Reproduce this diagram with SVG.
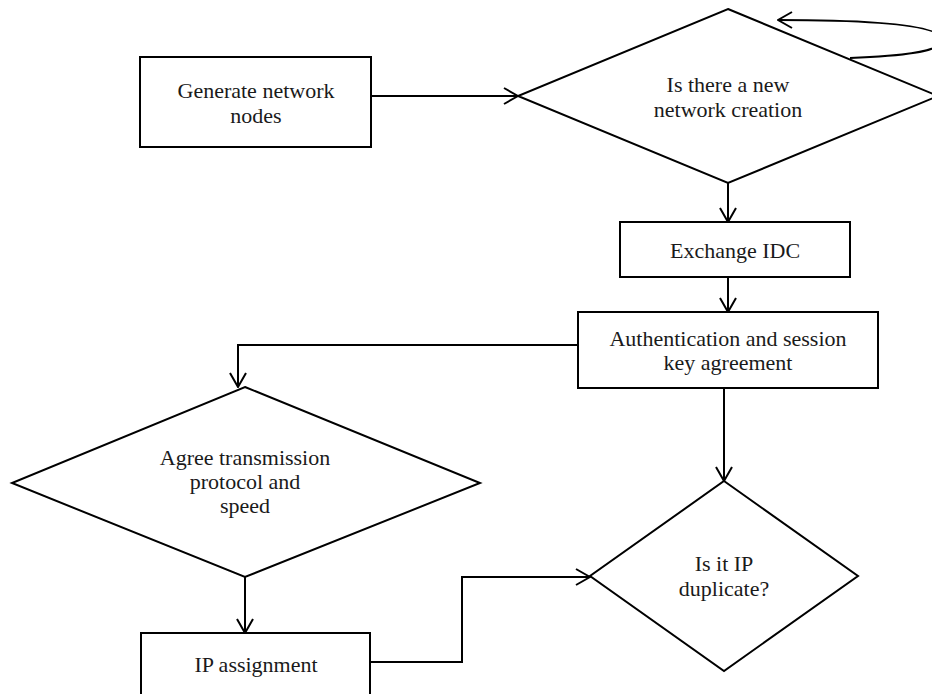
<svg xmlns="http://www.w3.org/2000/svg" width="932" height="694" viewBox="0 0 932 694">
<defs>
<style>
.shape{fill:#fff;stroke:#000;stroke-width:2}
.conn{fill:none;stroke:#000;stroke-width:2;marker-end:url(#arr)}
text{font-family:"Liberation Serif","Times New Roman",serif;font-size:22px;fill:#1a1a1a;text-anchor:middle}
</style>
<marker id="arr" viewBox="0 0 16 18" refX="15" refY="9" markerWidth="16" markerHeight="18" markerUnits="userSpaceOnUse" orient="auto">
<path d="M1,1 L15,9 L1,17" fill="none" stroke="#000" stroke-width="2"/>
</marker>
</defs>
<rect width="932" height="694" fill="#fff"/>
<g id="gen">
<rect class="shape" x="140" y="57" width="231" height="90"/>
<text x="256" y="98">Generate network</text>
<text x="256" y="123">nodes</text>
</g>
<g id="newnet">
<polygon class="shape" points="728,9 938,96 728,183 518,96"/>
<text x="728" y="92">Is there a new</text>
<text x="728" y="117">network creation</text>
</g>
<g id="exchange">
<rect class="shape" x="620" y="222" width="230" height="55"/>
<text x="735" y="258">Exchange IDC</text>
</g>
<g id="auth">
<rect class="shape" x="578" y="312" width="300" height="76"/>
<text x="728" y="346">Authentication and session</text>
<text x="728" y="370">key agreement</text>
</g>
<g id="agree">
<polygon class="shape" points="245,387 480,483 245,577 12,483"/>
<text x="245" y="465">Agree transmission</text>
<text x="245" y="489">protocol and</text>
<text x="245" y="513">speed</text>
</g>
<g id="ipassign">
<rect class="shape" x="141" y="633" width="229" height="70"/>
<text x="256" y="672">IP assignment</text>
</g>
<g id="dup">
<polygon class="shape" points="724,481 858,576 724,671 590,576"/>
<text x="724" y="571">Is it IP</text>
<text x="724" y="596">duplicate?</text>
</g>
<g id="connectors">
<path class="conn" d="M371,96 L518,96"/>
<path class="conn" d="M850,58 C900,56 942,52 942,40 C942,26 880,20 778,20"/>
<path class="conn" d="M728,183 L728,222"/>
<path class="conn" d="M728,277 L728,312"/>
<path class="conn" d="M578,345 L238,345 L238,387"/>
<path class="conn" d="M724,388 L724,481"/>
<path class="conn" d="M245,577 L245,633"/>
<path class="conn" d="M370,662 L462,662 L462,577 L590,577"/>
</g>
</svg>
